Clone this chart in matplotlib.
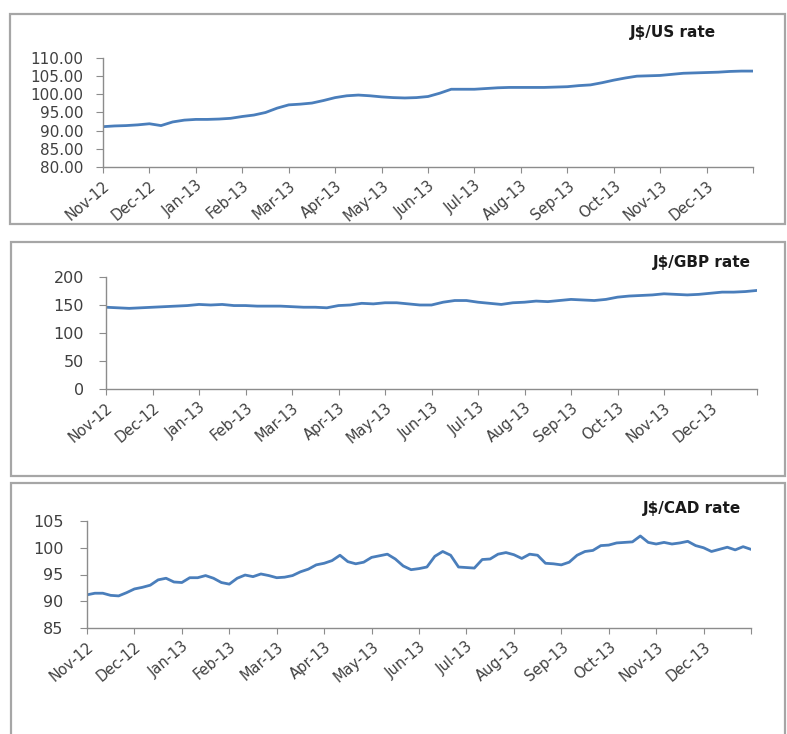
import numpy as np
import matplotlib
matplotlib.use("Agg")
import matplotlib.pyplot as plt
from matplotlib.patches import Rectangle
from matplotlib.ticker import FormatStrFormatter

# ── DATA ─────────────────────────────────────────────────────────────────────
months = ["Nov-12", "Dec-12", "Jan-13", "Feb-13", "Mar-13", "Apr-13", "May-13",
          "Jun-13", "Jul-13", "Aug-13", "Sep-13", "Oct-13", "Nov-13", "Dec-13"]

# J$/US, 4 readings per month, last value = end of Dec-13
usd = [91.1, 91.3, 91.4, 91.6,
       91.9, 91.4, 92.4, 92.9,
       93.1, 93.1, 93.2, 93.4,
       93.9, 94.3, 95.0, 96.2,
       97.1, 97.3, 97.6, 98.3,
       99.1, 99.6, 99.8, 99.6,
       99.3, 99.1, 99.0, 99.1,
       99.4, 100.3, 101.4, 101.4,
       101.4, 101.6, 101.8, 101.9,
       101.9, 101.9, 101.9, 102.0,
       102.1, 102.4, 102.6, 103.2,
       103.9, 104.5, 105.0, 105.1,
       105.2, 105.5, 105.8, 105.9,
       106.0, 106.1, 106.3, 106.4,
       106.4]

# J$/GBP, 4 readings per month
gbp = [146, 145, 144, 145,
       146, 147, 148, 149,
       151, 150, 151, 149,
       149, 148, 148, 148,
       147, 146, 146, 145,
       149, 150, 153, 152,
       154, 154, 152, 150,
       150, 155, 158, 158,
       155, 153, 151, 154,
       155, 157, 156, 158,
       160, 159, 158, 160,
       164, 166, 167, 168,
       170, 169, 168, 169,
       171, 173, 173, 174,
       176]

# J$/CAD, 6 readings per month
cad = [91.2, 91.5, 91.5, 91.1, 91.0, 91.6,
       92.3, 92.6, 93.0, 94.0, 94.3, 93.6,
       93.5, 94.4, 94.4, 94.8, 94.3, 93.5,
       93.2, 94.3, 94.9, 94.6, 95.1, 94.8,
       94.4, 94.5, 94.8, 95.5, 96.0, 96.8,
       97.1, 97.6, 98.6, 97.4, 97.0, 97.3,
       98.2, 98.5, 98.8, 97.9, 96.6, 95.9,
       96.1, 96.4, 98.4, 99.3, 98.6, 96.4,
       96.3, 96.2, 97.8, 97.9, 98.8, 99.1,
       98.7, 98.0, 98.8, 98.6, 97.1, 97.0,
       96.8, 97.3, 98.6, 99.3, 99.5, 100.4,
       100.5, 100.9, 101.0, 101.1, 102.2, 101.0,
       100.7, 101.0, 100.7, 100.9, 101.2, 100.4,
       100.0, 99.3, 99.7, 100.1, 99.6, 100.2,
       99.7]

W, H = 787, 734
LINE = "#4a7ebb"
SPINE = "#8c8c8c"
TXT = "#404040"

fig = plt.figure(figsize=(W / 100, H / 100), dpi=100)
fig.patch.set_facecolor("white")


def px_axes(left, right, top, bottom):
    return fig.add_axes([left / W, 1 - bottom / H, (right - left) / W, (bottom - top) / H])


def px_box(left, right, top, bottom):
    fig.patches.append(Rectangle((left / W, 1 - bottom / H), (right - left) / W,
                                 (bottom - top) / H, transform=fig.transFigure,
                                 fill=False, edgecolor="#a6a6a6", linewidth=1.6))


def panel(ax, values, per_month, ylim, yticks, fmt, title, tx, ty, ysize, ypad):
    x = np.arange(len(values)) / per_month
    ax.plot(x, values, color=LINE, linewidth=2)
    ax.set_xlim(0, len(months))
    ax.set_ylim(*ylim)
    ax.set_yticks(yticks)
    if fmt:
        ax.yaxis.set_major_formatter(FormatStrFormatter(fmt))
    ax.set_xticks(range(len(months) + 1))
    ax.set_xticklabels(months + [""], rotation=40, ha="right", rotation_mode="anchor",
                       fontsize=10.5, color=TXT)
    ax.tick_params(axis="x", direction="out", length=4, color=SPINE, pad=4)
    ax.tick_params(axis="y", direction="out", length=5, color=SPINE, labelsize=ysize,
                   labelcolor=TXT, pad=ypad)
    for s in ("top", "right"):
        ax.spines[s].set_visible(False)
    for s in ("left", "bottom"):
        ax.spines[s].set_color(SPINE)
        ax.spines[s].set_linewidth(1)
    ax.set_facecolor("none")
    fig.text(tx / W, 1 - ty / H, title, ha="center", va="center", fontsize=11,
             fontweight="bold", color="#1a1a1a")


# ── BOXES ────────────────────────────────────────────────────────────────────
px_box(10, 785, 14, 224)
px_box(11, 785, 242, 476)
px_box(11, 785, 483, 740)

# ── PANEL 1: J$/US ───────────────────────────────────────────────────────────
ax1 = px_axes(103, 753, 58, 167)
panel(ax1, usd, 4, (80, 110), np.arange(80, 111, 5), "%.2f", "J$/US rate", 673, 33, 11, 9)

# ── PANEL 2: J$/GBP ──────────────────────────────────────────────────────────
ax2 = px_axes(106, 757, 277, 389)
panel(ax2, gbp, 4, (0, 200), np.arange(0, 201, 50), None, "J$/GBP rate", 702, 263, 11.5, 11)

# ── PANEL 3: J$/CAD ──────────────────────────────────────────────────────────
ax3 = px_axes(87, 751, 521, 628)
panel(ax3, cad, 6, (85, 105), np.arange(85, 106, 5), None, "J$/CAD rate", 692, 508, 11.5, 12)

fig.savefig("out.png", dpi=100, facecolor="white")
